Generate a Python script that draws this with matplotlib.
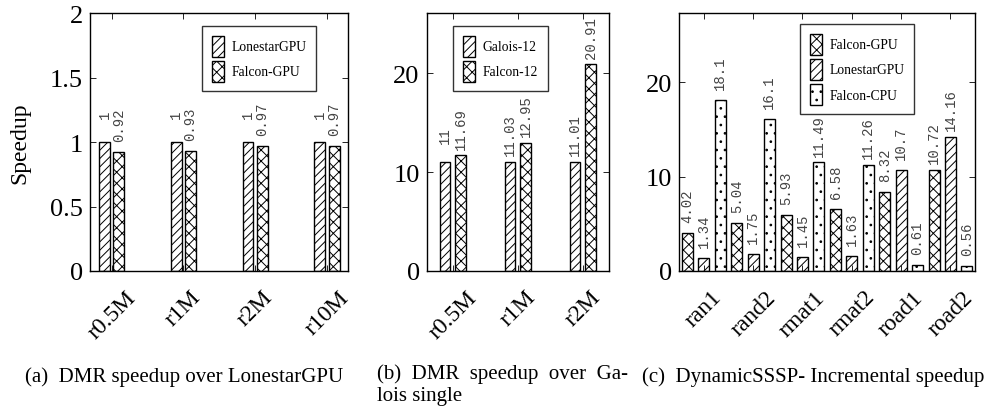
import matplotlib
matplotlib.use('Agg')
import matplotlib.pyplot as plt
import numpy as np

plt.rcParams['font.family'] = ['Liberation Serif', 'DejaVu Serif']
plt.rcParams['hatch.linewidth'] = 0.7

# (a) DMR speedup over LonestarGPU
a_cats = ['r0.5M', 'r1M', 'r2M', 'r10M']
a_lonestar = [1, 1, 1, 1]
a_falcon = [0.92, 0.93, 0.97, 0.97]

# (b) DMR speedup over Galois single
b_cats = ['r0.5M', 'r1M', 'r2M']
b_galois = [11, 11.03, 11.01]
b_falcon = [11.69, 12.95, 20.91]

# (c) DynamicSSSP incremental speedup
c_cats = ['ran1', 'rand2', 'rmat1', 'rmat2', 'road1', 'road2']
c_falcon_gpu = [4.02, 5.04, 5.93, 6.58, 8.32, 10.72]
c_lonestar = [1.34, 1.75, 1.45, 1.63, 10.7, 14.16]
c_falcon_cpu = [18.1, 16.1, 11.49, 11.26, 0.61, 0.56]

captions = ['(a)  DMR speedup over LonestarGPU',
            '(b)  DMR  speedup  over  Ga-\nlois single',
            '(c)  DynamicSSSP- Incremental speedup']


def fmt(v):
    return ('%g' % v)


def bars(ax, x, vals, w, hatch, label):
    b = ax.bar(x, vals, w, color='white', edgecolor='black', linewidth=1.0,
               hatch=hatch, label=label)
    # value labels: centred a fixed distance above the bar top
    for xi, v in zip(x, vals):
        ax.annotate(fmt(v), (xi, v), xytext=(0, 20), textcoords='offset points',
                    rotation=90, ha='center', va='center', fontsize=10,
                    family='Liberation Mono', color='#444444')
    return b


def style(ax, cats, ylim, yticks, ylabels):
    ax.set_xticks(np.arange(len(cats)))
    ax.set_xticklabels(cats, rotation=45, ha='center', fontsize=17)
    ax.set_ylim(*ylim)
    ax.set_yticks(yticks)
    ax.set_yticklabels(ylabels, fontsize=19)
    ax.tick_params(direction='in', top=True, right=True, length=4, width=0.6)
    ax.tick_params(axis='y', pad=5)
    ax.tick_params(axis='x', pad=11)
    for s in ax.spines.values():
        s.set_linewidth(1.0)


fig = plt.figure(figsize=(9.9, 4.14), dpi=100)

ax1 = fig.add_axes([0.091, 0.343, 0.261, 0.623])
x = np.arange(len(a_cats))
bars(ax1, x - 0.1, a_lonestar, 0.15, '////', 'LonestarGPU')
bars(ax1, x + 0.1, a_falcon, 0.15, 'xxx', 'Falcon-GPU')
ax1.set_xlim(-0.3, 3.3)
style(ax1, a_cats, (0, 2), [0, 0.5, 1, 1.5, 2], ['0', '0.5', '1', '1.5', '2'])
ax1.set_ylabel('Speedup', fontsize=17, labelpad=14)

ax2 = fig.add_axes([0.431, 0.343, 0.184, 0.623])
x = np.arange(len(b_cats))
bars(ax2, x - 0.12, b_galois, 0.16, '////', 'Galois-12')
bars(ax2, x + 0.12, b_falcon, 0.16, 'xxx', 'Falcon-12')
ax2.set_xlim(-0.4, 2.4)
style(ax2, b_cats, (0, 26.1), [0, 10, 20], ['0', '10', '20'])

ax3 = fig.add_axes([0.686, 0.343, 0.299, 0.623])
x = np.arange(len(c_cats))
bars(ax3, x - 0.33, c_falcon_gpu, 0.22, 'xxx', 'Falcon-GPU')
bars(ax3, x, c_lonestar, 0.22, '////', 'LonestarGPU')
bars(ax3, x + 0.33, c_falcon_cpu, 0.22, '..', 'Falcon-CPU')
ax3.set_xlim(-0.5, 5.5)
style(ax3, c_cats, (0, 27.3), [0, 10, 20], ['0', '10', '20'])

leg_kw = dict(fontsize=9.8, frameon=True, fancybox=False, edgecolor='black',
              handlelength=0.9, handleheight=2.0, borderpad=0.7,
              labelspacing=0.3, handletextpad=0.6, borderaxespad=0)
for ax, pos in [(ax1, (202, 27)), (ax2, (453, 27)), (ax3, (800, 25))]:
    lg = ax.legend(loc='upper left', bbox_to_anchor=(pos[0] / 990, 1 - pos[1] / 414),
                   bbox_transform=fig.transFigure, **leg_kw)
    lg.get_frame().set_linewidth(1.0)

fig.text(0.025, 1 - 382 / 414, captions[0], fontsize=15, va='baseline')
fig.text(0.381, 1 - 401 / 414, captions[1], fontsize=15, va='baseline', linespacing=1.2)
fig.text(642 / 990, 1 - 382 / 414, captions[2], fontsize=15, va='baseline')

fig.savefig('out.png', dpi=100)
